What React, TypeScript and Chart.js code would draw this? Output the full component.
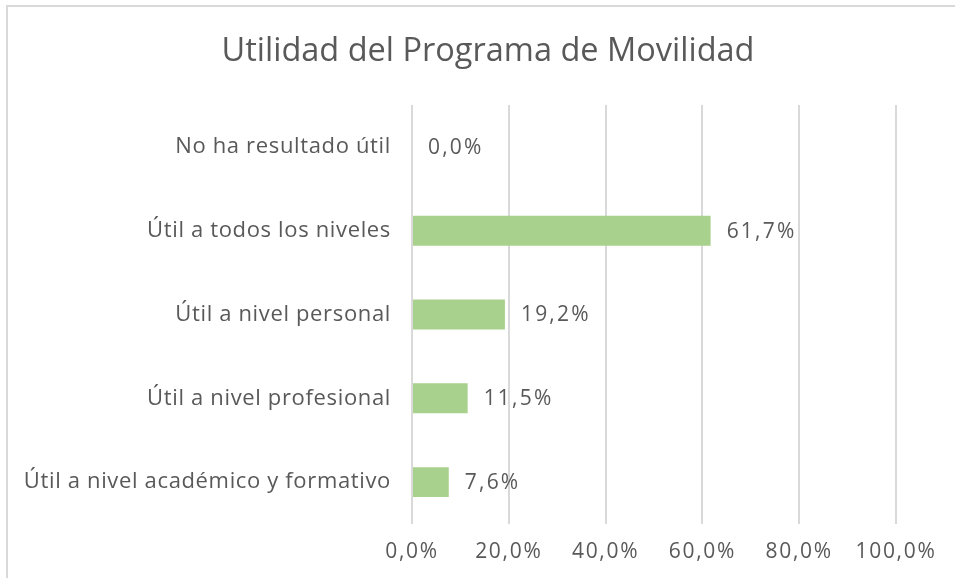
import React, { useEffect, useRef } from "react";
import { Chart, registerables } from "chart.js";

Chart.register(...registerables);

const chartTitle = "Utilidad del Programa de Movilidad";
const categories = [
  "No ha resultado útil",
  "Útil a todos los niveles",
  "Útil a nivel personal",
  "Útil a nivel profesional",
  "Útil a nivel académico y formativo",
];
const values = [0.0, 61.7, 19.2, 11.5, 7.6];
const xMin = 0;
const xMax = 100;
const xStep = 20;

const fmt = (v: number) => v.toFixed(1).replace(".", ",") + "%";

const TEXT = "#595959";
const FONT = "'Open Sans', 'Noto Sans', sans-serif";

const customText = {
  id: "customText",
  afterUpdate(chart: any) {
    const patch = (s: any, spacing: string) => {
      if (!s || s.__patched) return;
      const orig = s.drawLabels.bind(s);
      s.drawLabels = (ca: any) => {
        const c = chart.ctx;
        c.save();
        c.letterSpacing = spacing;
        orig(ca);
        c.restore();
      };
      s.__patched = true;
    };
    patch(chart.scales.x, "1.7px");
    patch(chart.scales.y, "0.65px");
  },
  afterDatasetsDraw(chart: any) {
    const ctx = chart.ctx;
    const meta = chart.getDatasetMeta(0);
    ctx.save();
    ctx.fillStyle = TEXT;
    ctx.font = `21px ${FONT}`;
    ctx.letterSpacing = "2.2px";
    ctx.textAlign = "left";
    ctx.textBaseline = "middle";
    meta.data.forEach((el: any, i: number) => {
      ctx.fillText(fmt(values[i]), el.x + 16, el.y + 1);
    });
    ctx.restore();
  },
  afterDraw(chart: any) {
    const ctx = chart.ctx;
    ctx.save();
    ctx.fillStyle = TEXT;
    ctx.font = `32.5px ${FONT}`;
    ctx.textAlign = "center";
    ctx.textBaseline = "middle";
    ctx.fillText(chartTitle, 488, 52);
    ctx.restore();
  },
};

export default function App() {
  const ref = useRef<HTMLCanvasElement>(null);
  useEffect(() => {
    if (!ref.current) return;
    const chart = new Chart(ref.current, {
      type: "bar",
      data: {
        labels: categories,
        datasets: [
          {
            data: values,
            backgroundColor: "#a9d18e",
            borderWidth: 0,
            barPercentage: 30 / 84,
            categoryPercentage: 1,
          },
        ],
      },
      options: {
        indexAxis: "y",
        responsive: false,
        animation: false,
        layout: { padding: { left: 0, right: 59, top: 105, bottom: 0 } },
        plugins: {
          legend: { display: false },
          tooltip: { enabled: false },
          title: { display: false },
        },
        scales: {
          x: {
            min: xMin,
            max: xMax,
            ticks: {
              stepSize: xStep,
              color: TEXT,
              padding: 15,
              font: { family: FONT, size: 21 },
              callback: (v: any) => fmt(Number(v)),
            },
            grid: { color: "#d9d9d9", lineWidth: 2, drawTicks: false },
            border: { display: false },
            afterFit: (s: any) => {
              s.height = 54;
            },
          },
          y: {
            ticks: {
              color: TEXT,
              padding: 21,
              font: { family: FONT, size: 22 },
            },
            grid: { display: false, drawTicks: false },
            border: { display: false },
            afterFit: (s: any) => {
              s.width = 412;
            },
          },
        },
      },
      plugins: [customText],
    });
    return () => chart.destroy();
  }, []);

  return (
    <div
      style={{
        position: "absolute",
        left: 0,
        top: 0,
        width: 955,
        height: 578,
        overflow: "hidden",
        background: "#ffffff",
      }}
    >
      <div
        style={{
          position: "absolute",
          left: 6,
          top: 5,
          width: 1000,
          height: 1000,
          border: "2px solid #d9d9d9",
        }}
      />
      <canvas
        ref={ref}
        width={955}
        height={578}
        style={{ position: "absolute", left: 0, top: 0 }}
      />
    </div>
  );
}
